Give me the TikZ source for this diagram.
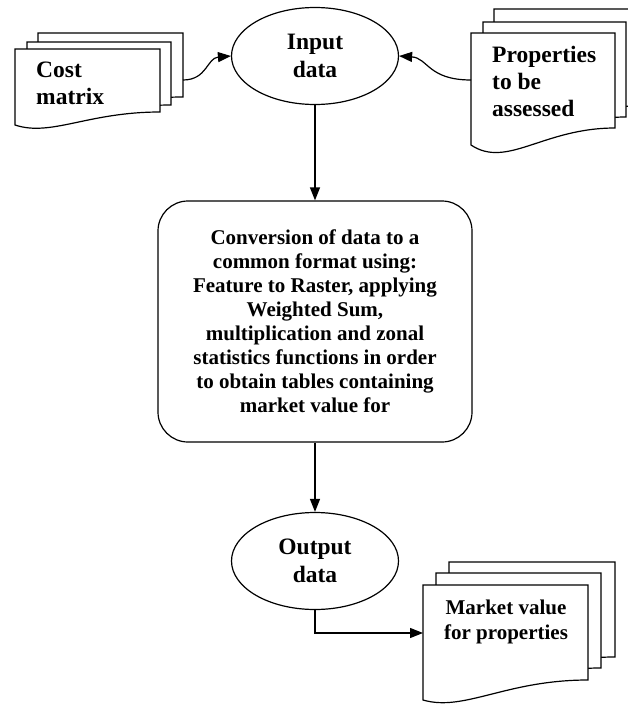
\documentclass[tikz,border=0pt]{standalone}
\usepackage{fontspec}
\setmainfont{Liberation Serif}
\usetikzlibrary{shapes.geometric,arrows.meta}
\tikzset{
  docstyle/.style={draw, fill=white, line width=1.2pt},
  ellnode/.style={draw, ellipse, line width=1.2pt, minimum width=167pt, minimum height=97pt, inner sep=0pt, align=center, font=\fontsize{23.5}{27.5}\selectfont\bfseries},
  procbox/.style={draw, rounded corners=30pt, line width=1.2pt, minimum width=314pt, minimum height=241pt, align=center, font=\fontsize{21}{24}\selectfont\bfseries},
  doctext/.style={align=left, inner sep=0pt, font=\fontsize{23.5}{27}\selectfont\bfseries},
  mvtext/.style={align=center, inner sep=0pt, font=\fontsize{21}{25}\selectfont\bfseries},
  conn/.style={line width=1.2pt, -{Triangle[length=13pt,width=10pt]}}
}
\newcommand\mydoc[6]{% x1, yt, x2, yl, yr, dip
  \draw[docstyle] (#1,#2) -- (#3,#2) -- (#3,#5) .. controls ({#1+0.5*(#3-#1)},#5) and ({#1+0.25*(#3-#1)},{#4+#6}) .. (#1,#4) -- cycle;}
\begin{document}
\begin{tikzpicture}[x=1pt,y=-1pt]
\useasboundingbox (0,0) rectangle (628,704);
\clip (0,0) rectangle (628,704);
% cost matrix stack
\mydoc{38}{33}{183}{109}{97}{12}
\mydoc{27}{42}{171}{118}{105}{12}
\mydoc{15}{49}{160}{125}{112}{12}
\node[doctext, anchor=north west] (cost) at (36,62) {Cost\\matrix};
\coordinate (costout) at (183,80);
% properties stack
\mydoc{494}{9}{638}{122}{106}{24}
\mydoc{483}{22}{626}{134}{117}{24}
\mydoc{471}{33}{615}{145}{128}{24}
\node[doctext, anchor=north west] (prop) at (492,46) {Properties\\to be\\assessed};
\coordinate (propin) at (471,80);
% market value stack
\mydoc{449}{562}{615}{677}{657}{12}
\mydoc{436}{573}{601}{688}{668}{12}
\mydoc{423}{585}{588}{700}{680}{12}
\node[mvtext, anchor=north] (mv) at (506,600) {Market value\\for properties};
\coordinate (mvin) at (423,633);
% main flow
\node[ellnode] (input) at (315,56) {Input\\data};
\node[procbox] (proc) at (315,321.5) {Conversion of data to a\\common format using:\\Feature to Raster, applying\\Weighted Sum,\\multiplication and zonal\\statistics functions in order\\to obtain tables containing\\market value for};
\node[ellnode] (output) at (315,561) {Output\\data};
\draw[conn] (costout) .. controls (207,80) and (207,58) .. (input.west);
\draw[conn] (propin) .. controls (428,80) and (428,58) .. (input.east);
\draw[conn] (input.south) -- (proc.north);
\draw[conn] (proc.south) -- (output.north);
\draw[conn] (output.south) |- (mvin);
\end{tikzpicture}
\end{document}
